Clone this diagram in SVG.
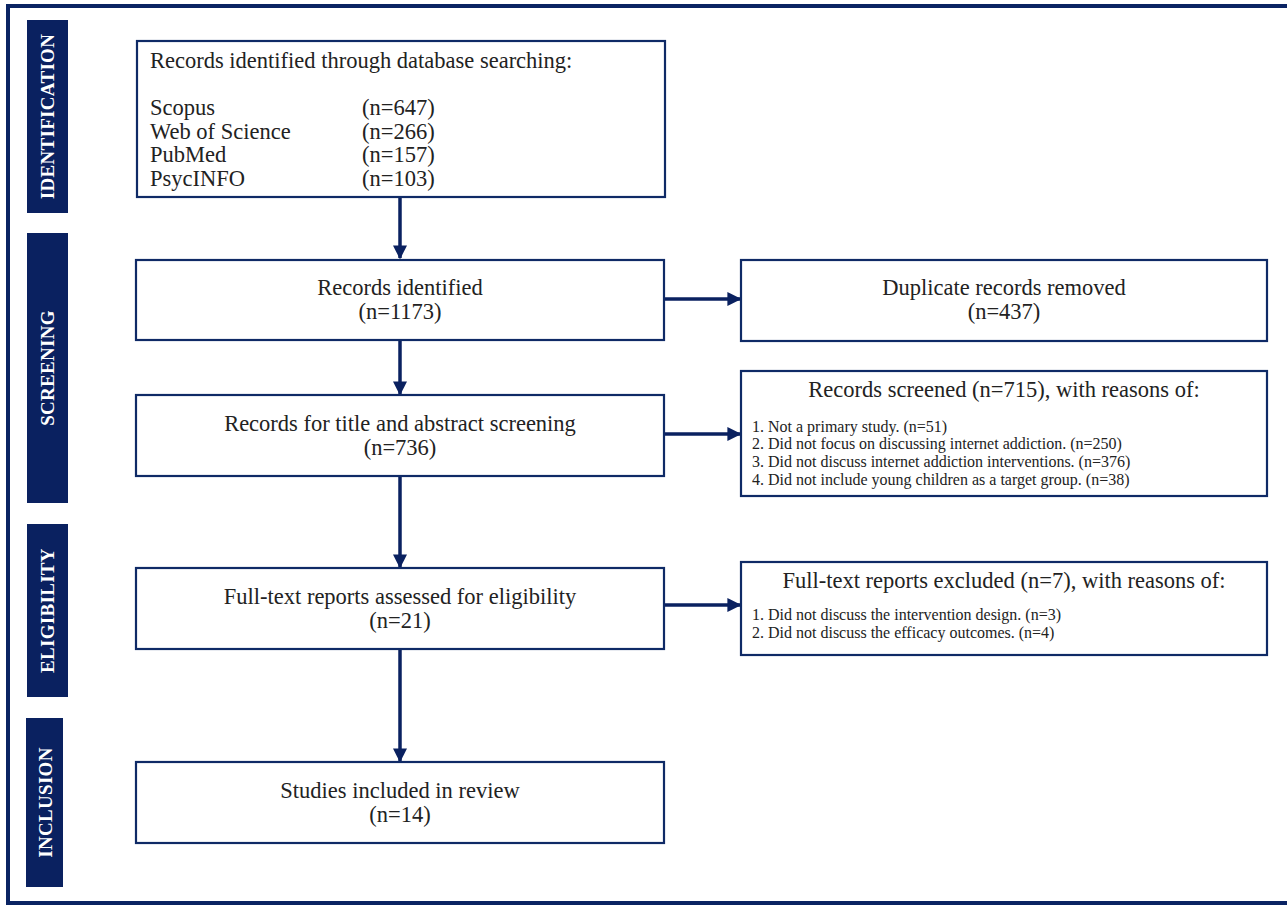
<svg xmlns="http://www.w3.org/2000/svg" width="1287" height="905" viewBox="0 0 1287 905">
<defs>
<style>
.frame{fill:none;stroke:#0a2463;stroke-width:4}
.box{fill:#fff;stroke:#0f2a66;stroke-width:2.2}
.bar{fill:#0a2160}
.lbl{font-family:"Liberation Serif","DejaVu Serif",serif;font-weight:bold;font-size:19px;fill:#fff;letter-spacing:0.3px}
.t{font-family:"Liberation Serif","DejaVu Serif",serif;font-size:22.5px;fill:#222}
.s{font-family:"Liberation Serif","DejaVu Serif",serif;font-size:16px;fill:#222}
.c{text-anchor:middle}
.edge{stroke:#0a2160;stroke-width:3.5;fill:none}
</style>
<marker id="ah" viewBox="0 0 10 10" refX="9" refY="5" markerWidth="4" markerHeight="4" markerUnits="strokeWidth" orient="auto">
<path d="M0,0 L10,5 L0,10 z" fill="#0a2160"/>
</marker>
</defs>
<rect width="1287" height="905" fill="#fff"/>
<rect class="frame" x="8" y="6" width="1290" height="897"/>

<g id="phase-identification"><rect class="bar" x="27" y="20" width="41" height="193"/><text class="lbl c" transform="translate(54,116.5) rotate(-90)">IDENTIFICATION</text></g>
<g id="phase-screening"><rect class="bar" x="27" y="233" width="41" height="270"/><text class="lbl c" transform="translate(54,368) rotate(-90)">SCREENING</text></g>
<g id="phase-eligibility"><rect class="bar" x="27" y="524" width="41" height="173"/><text class="lbl c" transform="translate(54,610.5) rotate(-90)">ELIGIBILITY</text></g>
<g id="phase-inclusion"><rect class="bar" x="26" y="718" width="37" height="169"/><text class="lbl c" transform="translate(51.5,802.5) rotate(-90)">INCLUSION</text></g>

<g id="connectors">
<line class="edge" x1="400" y1="197" x2="400" y2="258" marker-end="url(#ah)"/>
<line class="edge" x1="400" y1="340" x2="400" y2="394" marker-end="url(#ah)"/>
<line class="edge" x1="400" y1="476" x2="400" y2="567" marker-end="url(#ah)"/>
<line class="edge" x1="400" y1="649" x2="400" y2="761" marker-end="url(#ah)"/>
<line class="edge" x1="664" y1="299" x2="740" y2="299" marker-end="url(#ah)"/>
<line class="edge" x1="664" y1="434" x2="740" y2="434" marker-end="url(#ah)"/>
<line class="edge" x1="664" y1="605" x2="740" y2="605" marker-end="url(#ah)"/>
</g>

<g id="n-db">
<rect class="box" x="137" y="41" width="528" height="156"/>
<text class="t" x="150" y="68">Records identified through database searching:</text>
<text class="t" x="150" y="115">Scopus</text><text class="t" x="362" y="115">(n=647)</text>
<text class="t" x="150" y="139">Web of Science</text><text class="t" x="362" y="139">(n=266)</text>
<text class="t" x="150" y="162">PubMed</text><text class="t" x="362" y="162">(n=157)</text>
<text class="t" x="150" y="186">PsycINFO</text><text class="t" x="362" y="186">(n=103)</text>
</g>

<g id="n-identified">
<rect class="box" x="136" y="260" width="528" height="80"/>
<text class="t c" x="400" y="295">Records identified</text>
<text class="t c" x="400" y="319">(n=1173)</text>
</g>

<g id="n-duplicates">
<rect class="box" x="741" y="260" width="526" height="81"/>
<text class="t c" x="1004" y="295">Duplicate records removed</text>
<text class="t c" x="1004" y="319">(n=437)</text>
</g>

<g id="n-screening">
<rect class="box" x="136" y="395" width="528" height="81"/>
<text class="t c" x="400" y="431">Records for title and abstract screening</text>
<text class="t c" x="400" y="455">(n=736)</text>
</g>

<g id="n-screened-excluded">
<rect class="box" x="741" y="371" width="526" height="125"/>
<text class="t c" x="1004" y="397">Records screened (n=715), with reasons of:</text>
<text class="s" x="752" y="432">1. Not a primary study. (n=51)</text>
<text class="s" x="752" y="449">2. Did not focus on discussing internet addiction. (n=250)</text>
<text class="s" x="752" y="467">3. Did not discuss internet addiction interventions. (n=376)</text>
<text class="s" x="752" y="485">4. Did not include young children as a target group. (n=38)</text>
</g>

<g id="n-fulltext">
<rect class="box" x="136" y="568" width="528" height="81"/>
<text class="t c" x="400" y="604">Full-text reports assessed for eligibility</text>
<text class="t c" x="400" y="628">(n=21)</text>
</g>

<g id="n-fulltext-excluded">
<rect class="box" x="741" y="562" width="526" height="93"/>
<text class="t c" x="1004" y="588">Full-text reports excluded (n=7), with reasons of:</text>
<text class="s" x="752" y="620">1. Did not discuss the intervention design. (n=3)</text>
<text class="s" x="752" y="638">2. Did not discuss the efficacy outcomes. (n=4)</text>
</g>

<g id="n-included">
<rect class="box" x="136" y="762" width="528" height="81"/>
<text class="t c" x="400" y="798">Studies included in review</text>
<text class="t c" x="400" y="822">(n=14)</text>
</g>
</svg>
